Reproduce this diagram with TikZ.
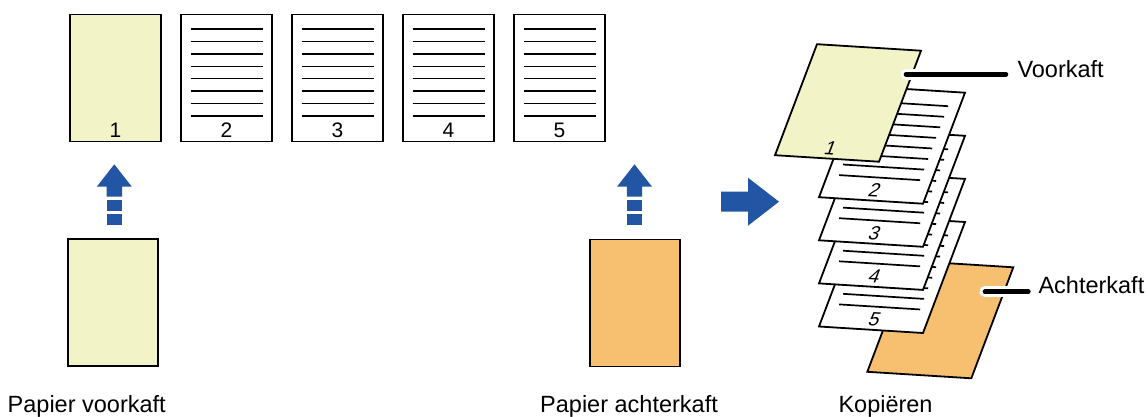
\documentclass[tikz,border=0pt]{standalone}
\usepackage{fontspec}
\setmainfont{Liberation Sans}
\definecolor{coverY}{RGB}{242,244,200}
\definecolor{coverO}{RGB}{247,191,112}
\definecolor{arrowB}{RGB}{34,86,164}
\tikzset{
  pageline/.style={draw=black, line width=1.8pt},
  flatpg/.style={pageline, minimum width=90.5pt, minimum height=127pt, inner sep=0pt},
  txtline/.style={draw=black, line width=1.5pt},
  sltxtline/.style={draw=black, line width=1.7pt},
  lbl/.style={inner sep=0pt, font=\fontsize{23.5}{28}\selectfont, anchor=base west},
  numflat/.style={inner sep=0pt, font=\fontsize{21}{25}\selectfont, anchor=base},
  numsl/.style={inner sep=0pt, font=\fontsize{19}{22}\selectfont, anchor=base, cm={0.998,-0.0624,0.378,1,(0,0)}, transform shape},
  blockarrow/.style={fill=arrowB, draw=none},
  halo/.style={draw=white, line width=11pt, line cap=round},
  leader/.style={draw=black, line width=4.7pt, line cap=round},
}
% flat page with text lines: name, centre x, number
\newcommand\flatlined[3]{%
  \node[flatpg, fill=white] (#1) at (#2,78.1) {};
  \foreach \k in {0,...,7}
    \draw[txtline] ({#2-36},{29+12.43*\k}) -- ({#2+36.4},{29+12.43*\k});
  \node[numflat] (#1n) at (#2,137.7) {#3};
}
% block arrow pointing up, centre x
\newcommand\feedarrow[1]{%
  \fill[blockarrow] (#1,164.3) -- ({#1+17.5},186.7) -- ({#1+7.7},186.7) -- ({#1+7.7},196.7)
     -- ({#1-7.7},196.7) -- ({#1-7.7},186.7) -- ({#1-17.5},186.7) -- cycle;
  \fill[blockarrow] ({#1-7.7},200) rectangle ({#1+7.7},211);
  \fill[blockarrow] ({#1-7.7},214) rectangle ({#1+7.7},225);
}
% slanted plain sheet: top-left, fill
\newcommand\slantsheet[2]{%
  \begin{scope}[shift={#1}, x={(104pt,-6.5pt)}, y={(-42pt,-111pt)}]
    \filldraw[pageline, fill=#2] (0,0) -- (1,0) -- (1,1) -- (0,1) -- cycle;
  \end{scope}
}
% slanted lined page: name, top-left, number
\newcommand\slantlined[3]{%
  \begin{scope}[shift={#2}, x={(104pt,-6.5pt)}, y={(-42pt,-111pt)}]
    \filldraw[pageline, fill=white] (0,0) -- (1,0) -- (1,1) -- (0,1) -- cycle;
    \foreach \k in {0,...,7}
      \draw[sltxtline] (0.11,{0.128+0.0952*\k}) -- (0.89,{0.128+0.0952*\k});
    \coordinate (#1pos) at (0.5,0.965);
  \end{scope}
  \begin{scope}[shift={(#1pos)}]
    \node[numsl] (#1) at (0,0) {#3};
  \end{scope}
}
\begin{document}
\begin{tikzpicture}[x=1pt, y=-1pt, line join=miter]
\useasboundingbox (0,0) rectangle (1148,417);
% top row
\node[flatpg, fill=coverY] (p1) at (115.5,78.1) {};
\node[numflat] (p1n) at (115.5,137.7) {1};
\flatlined{p2}{226.5}{2}
\flatlined{p3}{337.5}{3}
\flatlined{p4}{448.5}{4}
\flatlined{p5}{559.5}{5}
% inserted sheets
\node[flatpg, fill=coverY] (fc) at (112.85,302.8) {};
\node[flatpg, fill=coverO] (bc) at (634.85,303) {};
\feedarrow{114.3}
\feedarrow{634.5}
% right arrow
\fill[blockarrow] (721,191.7) -- (748,191.7) -- (748,177.7) -- (779,201.7) -- (748,225.7)
   -- (748,211.7) -- (721,211.7) -- cycle;
% output stack
\slantsheet{(909.3,260.8)}{coverO}
\slantlined{s5}{(861,215.5)}{5}
\slantlined{s4}{(861,172.4)}{4}
\slantlined{s3}{(861,129.3)}{3}
\slantlined{s2}{(861,86.2)}{2}
\slantsheet{(817,44.2)}{coverY}
\begin{scope}[shift={(828.5,154.4)}]
  \node[numsl] (s1) at (0,0) {1};
\end{scope}
% labels
\node[lbl] (voor) at (1017.3,77.3) {Voorkaft};
\node[lbl] (achter) at (1038.3,293.3) {Achterkaft};
\node[lbl] (lfc) at (7.5,412.7) {Papier voorkaft};
\node[lbl] (lbc) at (540,412.7) {Papier achterkaft};
\node[lbl] (lcp) at (838.3,412.7) {Kopiëren};
% leaders
\coordinate (voorpt) at (906,74.3);
\coordinate (achterpt) at (985,291.7);
\draw[halo] (voorpt) -- ([xshift=-11.4pt]voorpt -| voor.west);
\draw[leader] (voorpt) -- ([xshift=-11.4pt]voorpt -| voor.west);
\draw[halo] (achterpt) -- ([xshift=-10pt]achterpt -| achter.west);
\draw[leader] (achterpt) -- ([xshift=-10pt]achterpt -| achter.west);
\end{tikzpicture}
\end{document}
